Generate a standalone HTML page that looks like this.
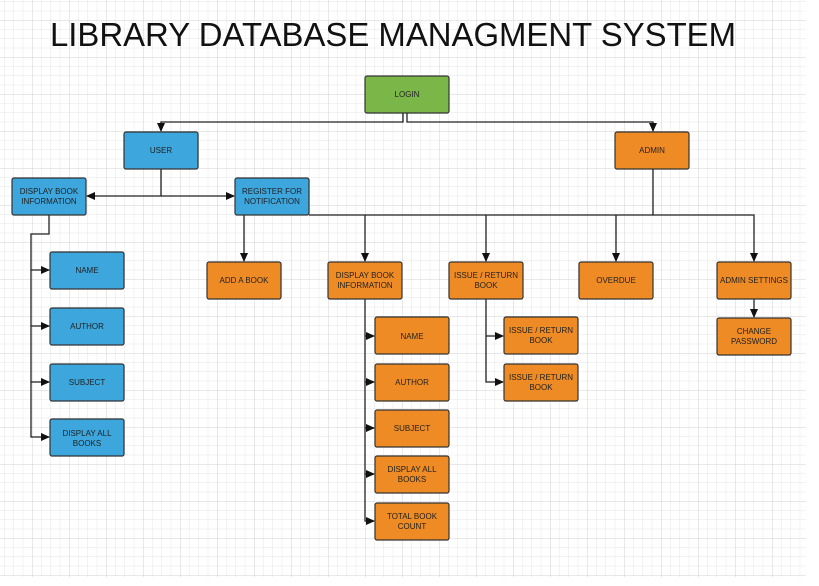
<!DOCTYPE html>
<html><head><meta charset="utf-8"><style>
body{margin:0;background:#fff}
svg text{font-family:"Liberation Sans",sans-serif}
</style></head><body>
<svg width="819" height="581" viewBox="0 0 819 581" xmlns="http://www.w3.org/2000/svg">
<defs>
<pattern id="mn" x="32" y="20" width="9.25" height="9.25" patternUnits="userSpaceOnUse">
<path d="M0 0V9.25M0 0H9.25" stroke="#e6e6e6" stroke-width="1" fill="none"/></pattern>
<pattern id="mj" x="32" y="20" width="37" height="37" patternUnits="userSpaceOnUse">
<path d="M0 0V37M0 0H37" stroke="#d2d2d2" stroke-width="1" fill="none"/></pattern>
<marker id="a" markerWidth="9" markerHeight="8" refX="8" refY="4" orient="auto" markerUnits="userSpaceOnUse">
<path d="M0 0L9 4L0 8z" fill="#111"/></marker>
</defs>
<rect x="0" y="0" width="806" height="577" fill="url(#mn)"/>
<rect x="0" y="0" width="806" height="577" fill="url(#mj)"/>
<text x="50" y="46" font-size="33" fill="#111" textLength="686" lengthAdjust="spacingAndGlyphs">LIBRARY DATABASE MANAGMENT SYSTEM</text>

<g stroke="#222" stroke-width="1.3" fill="none">
<path d="M403 113V122H161V131" marker-end="url(#a)"/>
<path d="M407 113V122H653V131" marker-end="url(#a)"/>
<path d="M161 169V196H87" marker-end="url(#a)"/>
<path d="M161 196H234" marker-end="url(#a)"/>
<path d="M653 169V215H309"/>
<path d="M653 215H754V261" marker-end="url(#a)"/>
<path d="M244 215V261" marker-end="url(#a)"/>
<path d="M365 215V261" marker-end="url(#a)"/>
<path d="M486 215V261" marker-end="url(#a)"/>
<path d="M616 215V261" marker-end="url(#a)"/>
<path d="M754 299V317" marker-end="url(#a)"/>
<path d="M49 215V234H31V437H49" marker-end="url(#a)"/>
<path d="M31 270H49" marker-end="url(#a)"/>
<path d="M31 326H49" marker-end="url(#a)"/>
<path d="M31 382H49" marker-end="url(#a)"/>
<path d="M365 299V521H374" marker-end="url(#a)"/>
<path d="M365 336H374" marker-end="url(#a)"/>
<path d="M365 382H374" marker-end="url(#a)"/>
<path d="M365 428H374" marker-end="url(#a)"/>
<path d="M365 474H374" marker-end="url(#a)"/>
<path d="M486 299V382H503" marker-end="url(#a)"/>
<path d="M486 336H503" marker-end="url(#a)"/>
</g>

<g stroke="#333" stroke-width="1.2">
<rect x="365" y="76" width="84" height="37" rx="2" fill="#7ab648"/>
<g fill="#3ca6dd">
<rect x="124" y="132" width="74" height="37" rx="2"/>
<rect x="12" y="178" width="74" height="37" rx="2"/>
<rect x="235" y="178" width="74" height="37" rx="2"/>
<rect x="50" y="252" width="74" height="37" rx="2"/>
<rect x="50" y="308" width="74" height="37" rx="2"/>
<rect x="50" y="364" width="74" height="37" rx="2"/>
<rect x="50" y="419" width="74" height="37" rx="2"/>
</g>
<g fill="#ef8b24">
<rect x="615" y="132" width="74" height="37" rx="2"/>
<rect x="207" y="262" width="74" height="37" rx="2"/>
<rect x="328" y="262" width="74" height="37" rx="2"/>
<rect x="449" y="262" width="74" height="37" rx="2"/>
<rect x="579" y="262" width="74" height="37" rx="2"/>
<rect x="717" y="262" width="74" height="37" rx="2"/>
<rect x="717" y="318" width="74" height="37" rx="2"/>
<rect x="375" y="317" width="74" height="37" rx="2"/>
<rect x="375" y="364" width="74" height="37" rx="2"/>
<rect x="375" y="410" width="74" height="37" rx="2"/>
<rect x="375" y="456" width="74" height="37" rx="2"/>
<rect x="375" y="503" width="74" height="37" rx="2"/>
<rect x="504" y="317" width="74" height="37" rx="2"/>
<rect x="504" y="364" width="74" height="37" rx="2"/>
</g>
</g>

<g font-size="8" fill="#222" text-anchor="middle">
<text x="407" y="97">LOGIN</text>
<text x="161" y="153">USER</text>
<text x="652" y="153">ADMIN</text>
<text x="49" y="194">DISPLAY BOOK</text><text x="49" y="204">INFORMATION</text>
<text x="272" y="194">REGISTER FOR</text><text x="272" y="204">NOTIFICATION</text>
<text x="87" y="273">NAME</text>
<text x="87" y="329">AUTHOR</text>
<text x="87" y="385">SUBJECT</text>
<text x="87" y="436">DISPLAY ALL</text><text x="87" y="446">BOOKS</text>
<text x="244" y="283">ADD A BOOK</text>
<text x="365" y="278">DISPLAY BOOK</text><text x="365" y="288">INFORMATION</text>
<text x="486" y="278">ISSUE /  RETURN</text><text x="486" y="288">BOOK</text>
<text x="616" y="283">OVERDUE</text>
<text x="754" y="283">ADMIN SETTINGS</text>
<text x="754" y="334">CHANGE</text><text x="754" y="344">PASSWORD</text>
<text x="412" y="339">NAME</text>
<text x="412" y="385">AUTHOR</text>
<text x="412" y="431">SUBJECT</text>
<text x="412" y="472">DISPLAY ALL</text><text x="412" y="482">BOOKS</text>
<text x="412" y="519">TOTAL BOOK</text><text x="412" y="529">COUNT</text>
<text x="541" y="333">ISSUE /  RETURN</text><text x="541" y="343">BOOK</text>
<text x="541" y="380">ISSUE /  RETURN</text><text x="541" y="390">BOOK</text>
</g>
</svg>
</body></html>
